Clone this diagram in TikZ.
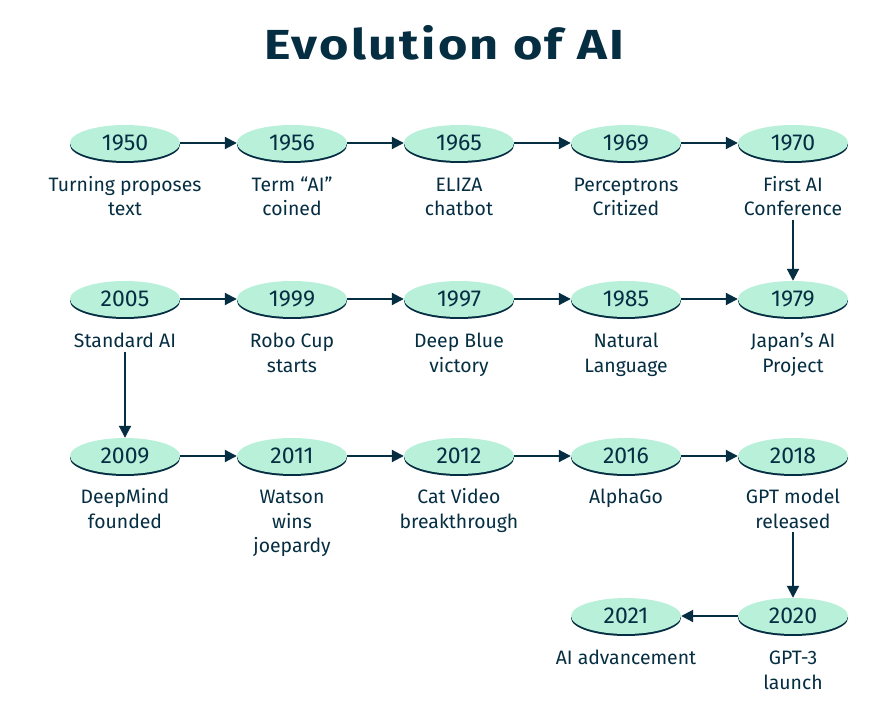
\documentclass[tikz,border=0pt]{standalone}
\usepackage{fontspec}
\setmainfont{Fira Sans}
\newfontfamily\titlefont{Fira Sans}[FakeStretch=1.2,LetterSpace=5.5]
\usetikzlibrary{shapes.geometric,arrows.meta,shadows}
\definecolor{navy}{RGB}{6,46,66}
\definecolor{mint}{RGB}{185,240,218}
\tikzset{
  year/.style={ellipse, fill=mint, minimum width=110pt, minimum height=36pt, inner sep=0pt,
    text=navy, font=\fontsize{23}{27}\selectfont,
    drop shadow={shadow xshift=0pt, shadow yshift=-2pt, fill=navy, opacity=1}},
  lbl/.style={align=center, anchor=base, inner sep=4pt, text=navy,
    font=\fontsize{19.4}{24.5}\selectfont},
  conn/.style={draw=navy, line width=2pt, -{Triangle[length=12pt,width=12pt]}},
}
\begin{document}
\begin{tikzpicture}[x=1pt,y=-1pt]
\useasboundingbox[fill=white] (0,0) rectangle (887,722);
\node[anchor=base, text=navy, font=\fontsize{42}{48}\selectfont\titlefont\bfseries] (title) at (444,60) {Evolution of AI};
% row 1 (label anchors at the baseline of the last line)
\node[year] (y1950) at (125,143) {1950};
\node[year] (y1956) at (292,143) {1956};
\node[year] (y1965) at (459,143) {1965};
\node[year] (y1969) at (626,143) {1969};
\node[year] (y1970) at (793,143) {1970};
\node[lbl] (l1950) at (125,216) {Turning proposes\\text};
\node[lbl] (l1956) at (292,216) {Term “AI”\\coined};
\node[lbl] (l1965) at (459,216) {ELIZA\\chatbot};
\node[lbl] (l1969) at (626,216) {Perceptrons\\Critized};
\node[lbl] (l1970) at (793,216) {First AI\\Conference};
% row 2
\node[year] (y2005) at (125,299) {2005};
\node[year] (y1999) at (292,299) {1999};
\node[year] (y1997) at (459,299) {1997};
\node[year] (y1985) at (626,299) {1985};
\node[year] (y1979) at (793,299) {1979};
\node[lbl] (l2005) at (125,347.5) {Standard AI};
\node[lbl] (l1999) at (292,372) {Robo Cup\\starts};
\node[lbl] (l1997) at (459,372) {Deep Blue\\victory};
\node[lbl] (l1985) at (626,372) {Natural\\Language};
\node[lbl] (l1979) at (793,372) {Japan’s AI\\Project};
% row 3
\node[year] (y2009) at (125,456) {2009};
\node[year] (y2011) at (292,456) {2011};
\node[year] (y2012) at (459,456) {2012};
\node[year] (y2016) at (626,456) {2016};
\node[year] (y2018) at (793,456) {2018};
\node[lbl] (l2009) at (125,528) {DeepMind\\founded};
\node[lbl] (l2011) at (292,552.5) {Watson\\wins\\joepardy};
\node[lbl] (l2012) at (459,528) {Cat Video\\breakthrough};
\node[lbl] (l2016) at (626,503.5) {AlphaGo};
\node[lbl] (l2018) at (793,528) {GPT model\\released};
% row 4
\node[year] (y2021) at (626,616) {2021};
\node[year] (y2020) at (793,616) {2020};
\node[lbl] (l2021) at (626,664.5) {AI advancement};
\node[lbl] (l2020) at (793,689) {GPT-3\\launch};
% connectors
\draw[conn] (y1950.east) -- (y1956.west);
\draw[conn] (y1956.east) -- (y1965.west);
\draw[conn] (y1965.east) -- (y1969.west);
\draw[conn] (y1969.east) -- (y1970.west);
\draw[conn] (l1970.south) -- (y1979.north);
\draw[conn] (y2005.east) -- (y1999.west);
\draw[conn] (y1999.east) -- (y1997.west);
\draw[conn] (y1997.east) -- (y1985.west);
\draw[conn] (y1985.east) -- (y1979.west);
\draw[conn] (l2005.south) -- (y2009.north);
\draw[conn] (y2009.east) -- (y2011.west);
\draw[conn] (y2011.east) -- (y2012.west);
\draw[conn] (y2012.east) -- (y2016.west);
\draw[conn] (y2016.east) -- (y2018.west);
\draw[conn] (l2018.south) -- (y2020.north);
\draw[conn] (y2020.west) -- (y2021.east);
\end{tikzpicture}
\end{document}
